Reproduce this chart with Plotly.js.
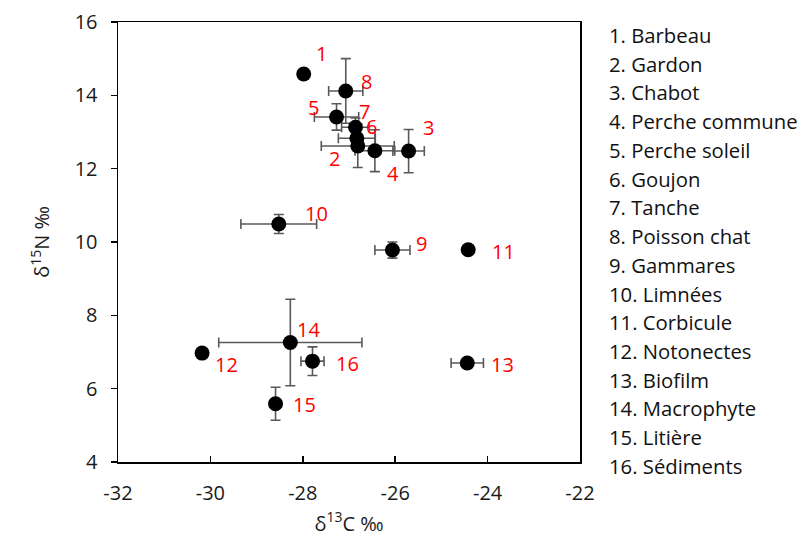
<!DOCTYPE html>
<html>
<head>
<meta charset="utf-8">
<script src="https://cdn.plot.ly/plotly-3.0.1.min.js"></script>
<style>html,body{margin:0;padding:0;background:#fff;}#chart{width:803px;height:540px;}</style>
</head>
<body>
<div id="chart"></div>
<script>
// Data (δ13C, δ15N) with standard deviations
const labels = ["1","2","3","4","5","6","7","8","9","10","11","12","13","14","15","16"];
const names = ["Barbeau","Gardon","Chabot","Perche commune","Perche soleil","Goujon","Tanche","Poisson chat","Gammares","Limnées","Corbicule","Notonectes","Biofilm","Macrophyte","Litière","Sédiments"];
const d13C = [-27.98,-26.81,-25.71,-26.44,-27.27,-26.83,-26.86,-27.07,-26.06,-28.52,-24.42,-30.18,-24.44,-28.27,-28.59,-27.79];
const d15N = [14.58,12.62,12.48,12.49,13.41,12.83,13.13,14.12,9.78,10.49,9.79,6.97,6.70,7.26,5.59,6.75];
const sdC  = [0,0.79,0.34,0.43,0.48,0.40,0.30,0.37,0.38,0.82,0,0,0.35,1.55,0,0.25];
const sdN  = [0,0.59,0.59,0.57,0.36,0.30,0.25,0.88,0.22,0.26,0,0,0,1.18,0.45,0.39];
// tick values / labels
const xTickVals = [-32,-30,-28,-26,-24,-22];
const xTickText = ["-32","-30","-28","-26","-24","-22"];
const yTickVals = [4,6,8,10,12,14,16];
const yTickText = ["4","6","8","10","12","14","16"];
// label offsets in pixels (dx, dy) relative to point
const labDx = [18,-23,20,18,-23,15,9,21,29,38,35,24,35,18,29,35];
const labDy = [21,-13,24,-23,9,12,16,9,7,11,-2,-11,-1,13,-1,-2];

const FONT = '"Open Sans", Lato, sans-serif';

const trace = {
  x: d13C, y: d15N, type: 'scatter', mode: 'markers',
  marker: {color: '#000', size: 15},
  error_x: {type: 'data', array: sdC, visible: true, color: '#595959', thickness: 1.6, width: 5},
  error_y: {type: 'data', array: sdN, visible: true, color: '#595959', thickness: 1.6, width: 5},
  hoverinfo: 'none', showlegend: false
};

const annotations = [];
for (let i = 0; i < labels.length; i++) {
  annotations.push({
    x: d13C[i], y: d15N[i], xref: 'x', yref: 'y', text: labels[i], showarrow: false,
    xshift: labDx[i], yshift: labDy[i],
    font: {family: FONT, size: 20, color: '#ff0000'}
  });
}
// legend list
const listTop = 35, listStep = 28.73, plotBottom = 462, plotH = 440;
for (let i = 0; i < names.length; i++) {
  const py = listTop + i * listStep;
  annotations.push({
    xref: 'paper', yref: 'paper', x: 1.058, y: (plotBottom - py) / plotH,
    xanchor: 'left', yanchor: 'middle', showarrow: false,
    text: labels[i] + '. ' + names[i],
    font: {family: FONT, size: 20.3, color: '#111'}
  });
}

const layout = {
  width: 803, height: 540,
  margin: {l: 118, r: 223, t: 22, b: 78},
  paper_bgcolor: '#fff', plot_bgcolor: '#fff',
  font: {family: FONT, size: 20, color: '#1a1a1a'},
  xaxis: {
    range: [-32, -22], tickmode: 'array', tickvals: xTickVals, ticktext: xTickText,
    showgrid: false, zeroline: false,
    showline: true, linecolor: '#000', linewidth: 1.5, mirror: true,
    ticks: 'inside', ticklen: 6, tickwidth: 1.5, tickcolor: '#000',
    ticklabelstandoff: 12,
    tickfont: {family: FONT, size: 20, color: '#1a1a1a'},
    title: {text: 'δ<sup>13</sup>C ‰', font: {family: FONT, size: 20, color: '#1a1a1a'}, standoff: 12}
  },
  yaxis: {
    range: [4, 16], tickmode: 'array', tickvals: yTickVals, ticktext: yTickText,
    showgrid: false, zeroline: false,
    showline: true, linecolor: '#000', linewidth: 1.5, mirror: true,
    ticks: 'outside', ticklen: 6, tickwidth: 1.5, tickcolor: '#000',
    ticklabelstandoff: 9,
    tickfont: {family: FONT, size: 20, color: '#1a1a1a'},
    title: {text: 'δ<sup>15</sup>N ‰', font: {family: FONT, size: 20, color: '#1a1a1a'}, standoff: 19}
  },
  annotations: annotations
};

Plotly.newPlot('chart', [trace], layout, {displayModeBar: false, staticPlot: true});
</script>
</body>
</html>
